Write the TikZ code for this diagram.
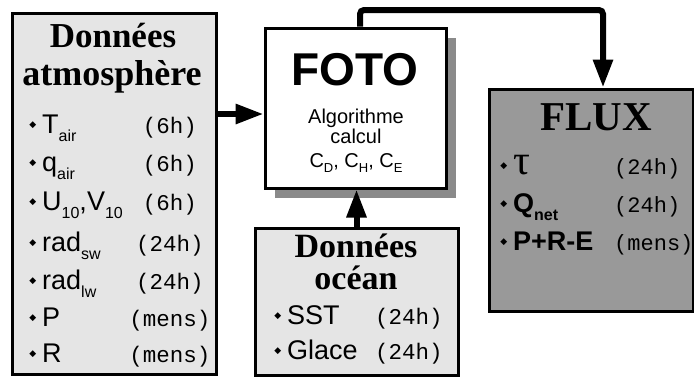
\documentclass[tikz,border=0pt]{standalone}
\usepackage{fontspec}
\setmainfont{Liberation Serif}
\setsansfont{Liberation Sans}
\setmonofont{Liberation Mono}
\newfontfamily\symbfont{DejaVu Sans}
\usetikzlibrary{arrows.meta,positioning,shadows}

\newcommand{\fsz}[1]{\fontsize{#1}{#1}\selectfont}
\newcommand{\sub}[1]{\raisebox{-8pt}{\fsz{16}#1}}
\newcommand{\indice}[1]{\raisebox{-5pt}{\fsz{13}#1}}
\newcommand{\puce}{\llap{\raisebox{5.5pt}{\symbfont\fsz{9}◆}\hspace{6pt}}}

\begin{document}
\begin{tikzpicture}[x=1pt, y=-1pt,
      panel/.style={draw, line width=3pt, fill=gray!20, inner sep=0pt},
      titre/.style={font=\rmfamily\bfseries\fsz{34}, anchor=base, inner sep=0pt},
      row/.style={font=\sffamily\fsz{27}, anchor=base west, inner sep=0pt},
      per/.style={font=\ttfamily\fsz{22.5}, anchor=base, inner sep=0pt},
      petit/.style={font=\sffamily\fsz{20}, anchor=base, inner sep=0pt},
      arr/.style={line width=6pt, -{Triangle[length=28pt,width=19pt]}},
    ]
    \useasboundingbox (0,0) rectangle (694,376);

    % blocs
    \node[panel, minimum width=204pt, minimum height=361pt] (atmos) at (114,193.5) {};
    \node[panel, fill=white, minimum width=181pt, minimum height=160pt,
      drop shadow={shadow xshift=10pt, shadow yshift=-10pt, fill=black!46, opacity=1}] (foto) at (355.5,108) {};
    \node[panel, minimum width=203pt, minimum height=147pt] (ocean) at (356.5,301.5) {};
    \node[panel, fill=gray!80, minimum width=204pt, minimum height=222pt] (flux) at (591,200) {};

    % donnees atmosphere
    \node[titre, font=\rmfamily\bfseries\fsz{35}] (atmostitre) at (113,47) {Données};
    \node[titre, font=\rmfamily\bfseries\fsz{36}] (atmostitrebis) at (112,85) {atmosphère};
    \node[row] (tair) at (42,133) {\puce T\sub{air}};
    \node[per] (tairper) at (170,133) {(6h)};
    \node[row] (qair) at (42,171) {\puce q\sub{air}};
    \node[per] (qairper) at (170,171) {(6h)};
    \node[row] (vent) at (42,210) {\puce U\sub{10},V\sub{10}};
    \node[per] (ventper) at (170,210) {(6h)};
    \node[row] (radsw) at (42,251) {\puce rad\sub{sw}};
    \node[per] (radswper) at (170,251) {(24h)};
    \node[row] (radlw) at (42,289) {\puce rad\sub{lw}};
    \node[per] (radlwper) at (170,289) {(24h)};
    \node[row] (precip) at (42,326) {\puce P};
    \node[per] (precipper) at (170,326) {(mens)};
    \node[row] (runoff) at (42,362) {\puce R};
    \node[per] (runoffper) at (170,362) {(mens)};

    % FOTO
    \node[font=\sffamily\bfseries\fsz{46}, anchor=base, inner sep=0pt] (fototitre) at (355,85) {FOTO};
    \node[petit] (fotoalgo) at (356,123) {Algorithme};
    \node[petit] (fotocalc) at (356,143) {calcul};
    \node[petit] (fotocoef) at (356,167) {C\indice{D}, C\indice{H}, C\indice{E}};

    % donnees ocean
    \node[titre] (oceantitre) at (356,257) {Données};
    \node[titre] (oceantitrebis) at (356,289) {océan};
    \node[row] (sst) at (287,324) {\puce SST};
    \node[per, anchor=base west] (sstper) at (375,324) {(24h)};
    \node[row] (glace) at (287,359) {\puce Glace};
    \node[per, anchor=base west] (glaceper) at (375,359) {(24h)};

    % FLUX
    \node[titre, font=\rmfamily\bfseries\fsz{41}] (fluxtitre) at (596,130) {FLUX};
    \node[row] (tau) at (513,174) {\puce\rmfamily\fsz{42}τ};
    \node[per, anchor=base west, font=\ttfamily\fsz{22}] (tauper) at (614,174) {(24h)};
    \node[row, font=\sffamily\bfseries\fsz{27}] (qnet) at (513,212) {\puce Q\sub{net}};
    \node[per, anchor=base west, font=\ttfamily\fsz{22}] (qnetper) at (614,212) {(24h)};
    \node[row, font=\sffamily\bfseries\fsz{27}] (pre) at (513,250) {\puce P+R-E};
    \node[per, anchor=base west, font=\ttfamily\fsz{22}] (preper) at (614,250) {(mens)};

    % liaisons
    \coordinate (entree) at (0,114);
    \coordinate (coude) at (603,10);
    \draw[arr] (atmos.east |- entree) -- (foto.west |- entree);
    \draw[arr] (ocean.north) -- (ocean.north |- foto.south);
    \draw[arr, rounded corners=4pt] ([xshift=4.5pt]foto.north) |- (coude) -- (coude |- flux.north);
  \end{tikzpicture}
\end{document}
